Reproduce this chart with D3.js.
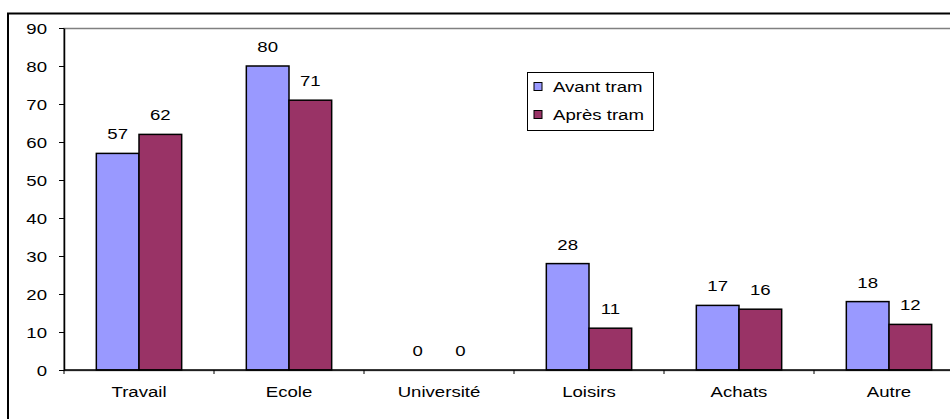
<!DOCTYPE html>
<html>
<head>
<meta charset="utf-8">
<script src="https://cdn.jsdelivr.net/npm/d3@7"></script>
<style>
  body { margin: 0; background: #fff; }
  text { font-family: "Liberation Sans", Arial, sans-serif; fill: #000; }
</style>
</head>
<body>
<script>
// chart data
var categories = ["Travail", "Ecole", "Université", "Loisirs", "Achats", "Autre"];
var seriesNames = ["Avant tram", "Après tram"];
var avantTram = [57, 80, 0, 28, 17, 18];
var apresTram = [62, 71, 0, 11, 16, 12];
var yTicks = [0, 10, 20, 30, 40, 50, 60, 70, 80, 90];
var colors = ["#9999ff", "#993366"];

var width = 950, height = 419;
var plotLeft = 64, plotRight = 964, plotTop = 28, plotBottom = 370;
var fontSize = 15.5;
var stretch = 1.2;   // text in the reference looks widened

// place a text at (x, y) and widen it
function place(sel, fx, fy) {
  sel.attr("transform", function(d, i) {
    return "translate(" + fx(d, i) + "," + fy(d, i) + ") scale(" + stretch + ",1)";
  }).style("font-size", fontSize + "px");
}

var svg = d3.select("body").append("svg")
    .attr("width", width)
    .attr("height", height);

// outer frame (runs off the picture at right and bottom)
svg.append("rect")
    .attr("x", 8).attr("y", 13.5)
    .attr("width", 1000).attr("height", 500)
    .style("fill", "none").style("stroke", "#000").style("stroke-width", 2);

var x0 = d3.scaleBand()
    .domain(categories)
    .range([plotLeft, plotRight])
    .paddingInner(0.431)
    .paddingOuter(0.2155);

var x1 = d3.scaleBand()
    .domain(seriesNames)
    .range([0, x0.bandwidth()]);

var y = d3.scaleLinear()
    .domain([0, 90])
    .range([plotBottom, plotTop]);

// plot area border
svg.append("rect")
    .attr("x", plotLeft).attr("y", plotTop + 0.5)
    .attr("width", plotRight - plotLeft).attr("height", plotBottom - plotTop)
    .style("fill", "none").style("stroke", "#808080").style("stroke-width", 1.5);

// bars
var rows = categories.map(function(c, i) {
  return { cat: c, values: [avantTram[i], apresTram[i]] };
});

var groups = svg.selectAll("g.grp")
    .data(rows)
    .enter().append("g")
    .attr("class", "grp")
    .attr("transform", function(d) { return "translate(" + x0(d.cat) + ",0)"; });

groups.selectAll("rect")
    .data(function(d) { return d.values.map(function(v, j) { return { s: seriesNames[j], v: v, j: j }; }); })
    .enter().append("rect")
    .attr("x", function(d) { return x1(d.s); })
    .attr("y", function(d) { return y(d.v); })
    .attr("width", x1.bandwidth())
    .attr("height", function(d) { return y(0) - y(d.v); })
    .style("fill", function(d) { return colors[d.j]; })
    .style("stroke", "#000")
    .style("stroke-width", function(d) { return d.v > 0 ? 1.5 : 0; });

groups.selectAll("text")
    .data(function(d) { return d.values.map(function(v, j) { return { s: seriesNames[j], v: v }; }); })
    .enter().append("text")
    .attr("text-anchor", "middle")
    .call(place, function(d) { return x1(d.s) + x1.bandwidth() / 2; },
                 function(d) { return y(d.v) - 14; })
    .text(function(d) { return d.v; });

// y axis: ticks from d3, labels placed by hand so they can be widened
var yAxis = svg.append("g")
    .attr("transform", "translate(" + plotLeft + ",0)")
    .call(d3.axisLeft(y).tickValues(yTicks).tickSize(5).tickSizeOuter(0).tickFormat(""));
yAxis.select(".domain").style("stroke", "#000").style("stroke-width", 1.5);
yAxis.selectAll(".tick line").style("stroke", "#000");

svg.selectAll("text.ylab")
    .data(yTicks)
    .enter().append("text")
    .attr("class", "ylab")
    .attr("text-anchor", "end")
    .call(place, function() { return 47; }, function(d) { return y(d) + 5.5; })
    .text(function(d) { return d; });

// x axis: ticks between the categories
var xAxis = svg.append("g")
    .attr("transform", "translate(0," + plotBottom + ")");
xAxis.append("line")
    .attr("x1", plotLeft).attr("x2", plotRight)
    .style("stroke", "#000").style("stroke-width", 1.5);
xAxis.selectAll("line.tk")
    .data(categories)
    .enter().append("line")
    .attr("class", "tk")
    .attr("x1", function(d) { return x0(d) - x0.step() * x0.paddingOuter(); })
    .attr("x2", function(d) { return x0(d) - x0.step() * x0.paddingOuter(); })
    .attr("y1", 0).attr("y2", 4)
    .style("stroke", "#000");
xAxis.selectAll("text")
    .data(categories)
    .enter().append("text")
    .attr("text-anchor", "middle")
    .call(place, function(d) { return x0(d) + x0.bandwidth() / 2; }, function() { return 27; })
    .text(function(d) { return d; });

// legend
var legend = svg.append("g").attr("transform", "translate(527,72)");
legend.append("rect")
    .attr("x", 0.5).attr("y", 0.5)
    .attr("width", 126).attr("height", 58)
    .style("fill", "#fff").style("stroke", "#000");
var items = legend.selectAll("g.item")
    .data(seriesNames)
    .enter().append("g")
    .attr("class", "item")
    .attr("transform", function(d, i) { return "translate(0," + (i * 28) + ")"; });
items.append("rect")
    .attr("x", 7).attr("y", 10.5)
    .attr("width", 8).attr("height", 8)
    .style("fill", function(d, i) { return colors[i]; })
    .style("stroke", "#000");
items.append("text")
    .call(place, function() { return 26; }, function() { return 20; })
    .text(function(d) { return d; });
</script>
</body>
</html>
